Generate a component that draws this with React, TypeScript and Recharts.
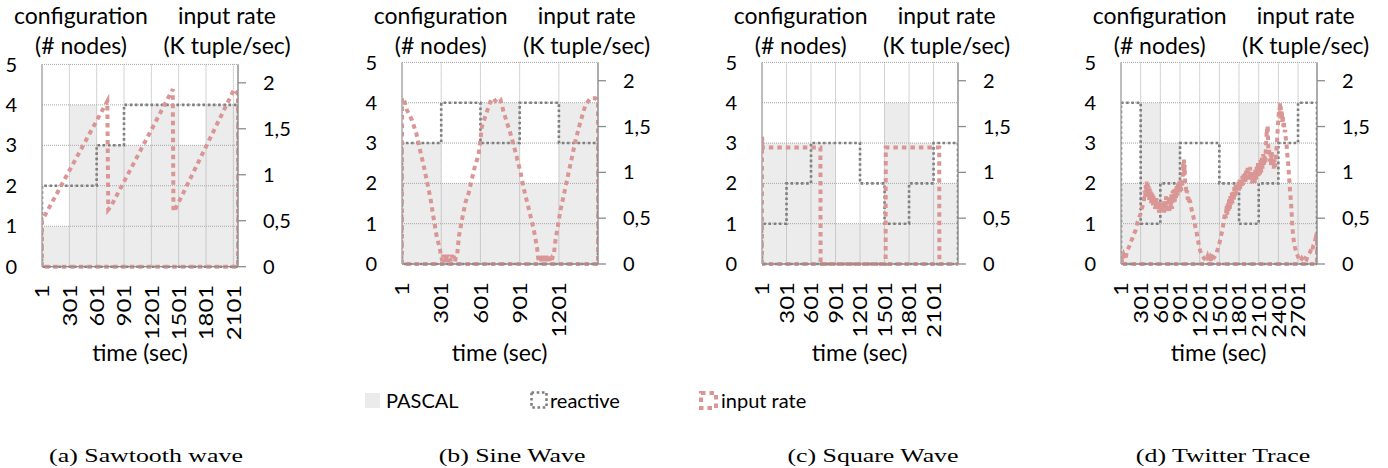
import { ComposedChart, Area, Line, XAxis, YAxis, CartesianGrid } from "recharts";

type Pt = [number, number];

// (a) sawtooth wave
const sawEnd = 2152;
const sawTicks = [1, 301, 601, 901, 1201, 1501, 1801, 2101];
const sawPascal: Pt[] = [[1, 1], [301, 4], [601, 3], [1201, 4], [1501, 3], [1801, 4], [2152, 4]];
const sawReactive: Pt[] = [[1, 2], [601, 3], [901, 4], [2152, 4]];
const sawRate: Pt[] = [
  [1, 0.5], [718, 1.8], [728, 0.62], [760, 0.66], [1436, 1.93], [1444, 0.6],
  [1461, 0.62], [2110, 1.93], [2150, 1.88], [2152, 1.88],
];

// (b) sine wave
const sineEnd = 1500;
const sineTicks = [1, 301, 601, 901, 1201];
const sinePascal: Pt[] = [[1, 3], [301, 2], [601, 4], [901, 2], [1201, 4], [1500, 4]];
const sineReactive: Pt[] = [[1, 3], [301, 4], [601, 3], [901, 4], [1201, 3], [1500, 3]];
const sineRate: Pt[] = [
  [1, 1.81], [13, 1.81], [39, 1.68], [77, 1.57], [110, 1.43], [141, 1.23], [166, 1.08],
  [192, 0.9], [218, 0.72], [243, 0.5], [269, 0.28], [289, 0.18], [300, 0.08], [310, 0.03],
  [318, 0.1], [326, 0.02], [334, 0.09], [342, 0.03], [350, 0.1], [358, 0.02], [366, 0.08],
  [374, 0.03], [382, 0.1], [390, 0.04], [398, 0.09], [406, 0.03], [414, 0.08], [423, 0.1],
  [436, 0.3], [462, 0.5], [488, 0.68], [510, 0.77], [536, 0.93], [561, 1.08], [587, 1.19],
  [612, 1.5], [638, 1.61], [676, 1.77], [700, 1.81], [714, 1.78], [735, 1.81], [753, 1.8],
  [778, 1.66], [829, 1.43], [867, 1.23], [906, 1.01], [931, 0.83], [969, 0.61], [1008, 0.38],
  [1034, 0.18], [1042, 0.07], [1050, 0.02], [1058, 0.1], [1066, 0.03], [1074, 0.09],
  [1082, 0.02], [1090, 0.1], [1098, 0.03], [1106, 0.09], [1114, 0.02], [1122, 0.1],
  [1130, 0.03], [1138, 0.08], [1146, 0.02], [1154, 0.09], [1162, 0.1], [1174, 0.25],
  [1212, 0.58], [1250, 0.83], [1288, 1.08], [1327, 1.34], [1365, 1.55], [1403, 1.73],
  [1441, 1.81], [1480, 1.81], [1500, 1.78],
];

// (c) square wave
const squareEnd = 2400;
const squareTicks = [1, 301, 601, 901, 1201, 1501, 1801, 2101];
const squarePascal: Pt[] = [[1, 3], [901, 1], [1501, 4], [1801, 3], [2101, 2], [2400, 2]];
const squareReactive: Pt[] = [[1, 1], [301, 2], [601, 3], [1201, 2], [1501, 1], [1801, 2], [2101, 3], [2400, 3]];
const squareRate: Pt[] = [
  [1, 1.39], [10, 1.27], [716, 1.27], [718, 0], [1514, 0], [1516, 1.27], [2170, 1.27],
  [2172, 0], [2400, 0],
];

// (d) twitter trace
const twitterEnd = 2990;
const twitterTicks = [1, 301, 601, 901, 1201, 1501, 1801, 2101, 2401, 2701];
const twitterPascal: Pt[] = [[1, 2], [301, 4], [601, 3], [901, 2], [1801, 4], [2101, 3], [2401, 2], [2990, 2]];
const twitterReactive: Pt[] = [
  [1, 4], [301, 1], [601, 2], [901, 3], [1501, 2], [1801, 1], [2101, 2], [2401, 3], [2701, 4], [2990, 4],
];
const twitterRate: Pt[] = [
  [1, 0.08], [20, 0.02], [45, 0.1], [70, 0.06], [95, 0.15], [120, 0.18], [150, 0.24],
  [175, 0.28], [200, 0.33], [225, 0.37], [250, 0.45], [275, 0.5], [300, 0.55], [325, 0.62],
  [350, 0.68], [362, 0.8], [370, 0.73], [378, 0.86], [385, 0.8], [392, 0.9], [400, 0.76],
  [408, 0.88], [415, 0.75], [422, 0.85], [430, 0.7], [438, 0.83], [445, 0.72], [452, 0.8],
  [460, 0.66], [468, 0.78], [475, 0.68], [482, 0.76], [490, 0.62], [498, 0.74], [505, 0.64],
  [512, 0.72], [520, 0.6], [528, 0.7], [535, 0.62], [542, 0.72], [550, 0.58], [558, 0.68],
  [565, 0.6], [572, 0.7], [580, 0.56], [590, 0.68], [600, 0.58], [610, 0.66], [620, 0.55],
  [630, 0.64], [640, 0.58], [650, 0.7], [660, 0.56], [670, 0.66], [680, 0.6], [690, 0.74],
  [700, 0.58], [710, 0.68], [720, 0.6], [730, 0.7], [740, 0.56], [750, 0.74], [760, 0.62],
  [770, 0.76], [780, 0.6], [790, 0.8], [800, 0.66], [810, 0.82], [820, 0.68], [830, 0.84],
  [840, 0.72], [850, 0.86], [860, 0.74], [870, 0.88], [880, 0.76], [890, 0.9], [900, 0.78],
  [910, 0.92], [920, 0.8], [935, 0.86], [945, 1.0], [950, 1.1], [955, 0.96], [960, 1.14],
  [966, 1.0], [972, 1.08], [980, 0.88], [990, 0.84], [1000, 0.76], [1010, 0.8],
  [1020, 0.7], [1030, 0.74], [1040, 0.66], [1050, 0.7], [1070, 0.62], [1090, 0.56],
  [1110, 0.5], [1130, 0.42], [1150, 0.36], [1170, 0.28], [1190, 0.2], [1210, 0.14],
  [1240, 0.09], [1270, 0.06], [1300, 0.04], [1320, 0.08], [1340, 0.03], [1360, 0.07],
  [1380, 0.03], [1400, 0.08], [1420, 0.07], [1450, 0.1], [1475, 0.16], [1500, 0.22],
  [1525, 0.3], [1550, 0.38], [1570, 0.48], [1590, 0.56], [1600, 0.5], [1610, 0.64],
  [1620, 0.54], [1630, 0.66], [1640, 0.58], [1650, 0.72], [1660, 0.6], [1670, 0.74],
  [1680, 0.64], [1690, 0.78], [1700, 0.66], [1710, 0.8], [1720, 0.7], [1730, 0.84],
  [1740, 0.72], [1750, 0.86], [1760, 0.76], [1770, 0.88], [1780, 0.78], [1790, 0.9],
  [1800, 0.8], [1810, 0.92], [1820, 0.82], [1830, 0.94], [1840, 0.84], [1850, 0.96],
  [1860, 0.86], [1870, 0.98], [1880, 0.88], [1890, 1.0], [1900, 0.9], [1910, 1.02],
  [1920, 0.92], [1930, 1.06], [1940, 0.94], [1950, 1.04], [1960, 0.92], [1970, 1.06],
  [1980, 0.9], [1990, 1.0], [2000, 0.88], [2010, 1.02], [2020, 0.9], [2030, 0.98],
  [2040, 0.88], [2050, 1.04], [2060, 0.92], [2070, 1.06], [2080, 0.94], [2090, 1.1],
  [2100, 0.96], [2110, 1.12], [2120, 0.98], [2130, 1.14], [2140, 1.0], [2150, 1.16],
  [2160, 1.04], [2170, 1.2], [2180, 1.06], [2190, 1.18], [2200, 1.1], [2210, 1.26],
  [2218, 1.36], [2225, 1.48], [2232, 1.42], [2238, 1.52], [2245, 1.3], [2252, 1.2],
  [2260, 1.26], [2270, 1.12], [2280, 1.2], [2290, 1.08], [2300, 1.22], [2310, 1.06],
  [2320, 1.16], [2330, 1.04], [2340, 1.14], [2350, 1.06], [2358, 1.1], [2370, 1.22],
  [2383, 1.37], [2395, 1.52], [2409, 1.66], [2417, 1.6], [2424, 1.76], [2430, 1.64],
  [2437, 1.72], [2445, 1.58], [2452, 1.68], [2460, 1.55], [2468, 1.62], [2475, 1.5],
  [2485, 1.56], [2495, 1.44], [2505, 1.46], [2515, 1.36], [2526, 1.3], [2536, 1.2],
  [2546, 1.14], [2556, 1.04], [2566, 0.94], [2576, 0.83], [2590, 0.7], [2602, 0.58],
  [2610, 0.46], [2617, 0.38], [2628, 0.3], [2638, 0.24], [2655, 0.18], [2678, 0.12],
  [2700, 0.08], [2720, 0.05], [2740, 0.03], [2760, 0.06], [2790, 0.03], [2810, 0.06],
  [2830, 0.05], [2850, 0.09], [2867, 0.11], [2885, 0.13], [2900, 0.16], [2915, 0.14],
  [2933, 0.2], [2950, 0.22], [2969, 0.28], [2980, 0.26], [2990, 0.32],
];

const leftTicks = [0, 1, 2, 3, 4, 5];
const rightTicks = [0, 0.5, 1, 1.5, 2];

const PASCAL_FILL = "#ebebeb";
const REACTIVE = "#7f7f7f";
const RATE = "#d99694";

const toRows = (pts: Pt[]) => pts.map(([t, v]) => ({ t, v }));
// area outline like the spreadsheet draws it: up the left edge, along the series, down and back along 0
const outline = (pts: Pt[]) => {
  const t0 = pts[0][0];
  const t1 = pts[pts.length - 1][0];
  return toRows([[t0, 0], ...pts, [t1, 0], [t0, 0]]);
};

const panels = [
  { left: 42, top: 64.4, bottom: 266.7, end: sawEnd, ticks: sawTicks, pascal: sawPascal, reactive: sawReactive, rate: sawRate, caption: "(a) Sawtooth wave", capX: 146 },
  { left: 401.7, top: 62.4, bottom: 264, end: sineEnd, ticks: sineTicks, pascal: sinePascal, reactive: sineReactive, rate: sineRate, caption: "(b) Sine Wave", capX: 512 },
  { left: 761.7, top: 62.4, bottom: 264, end: squareEnd, ticks: squareTicks, pascal: squarePascal, reactive: squareReactive, rate: squareRate, caption: "(c) Square Wave", capX: 873 },
  { left: 1120.7, top: 62.4, bottom: 264, end: twitterEnd, ticks: twitterTicks, pascal: twitterPascal, reactive: twitterReactive, rate: twitterRate, caption: "(d) Twitter Trace", capX: 1223 },
];

const FONT = "Lato, 'Open Sans', sans-serif";

// eslint-disable-next-line @typescript-eslint/no-explicit-any
const XTick = (props: any) => {
  const { x, y, payload } = props;
  return (
    <text
      x={0}
      y={0}
      transform={`translate(${x} ${y}) rotate(-90) scale(1.2 1)`}
      textAnchor="end"
      dy="0.36em"
      fontSize={20}
      fill="#000"
      fontFamily={FONT}
    >
      {payload.value}
    </text>
  );
};

const CHART_W = 296;
const CHART_H = 345;
const XAXIS_H = 33;

function Panel({ p }: { p: (typeof panels)[number] }) {
  return (
    <>
      <div style={{ position: "absolute", left: p.left - 42, top: 0 }}>
        <ComposedChart
          width={CHART_W}
          height={CHART_H}
          margin={{ top: p.top, left: 2, right: 8, bottom: CHART_H - p.bottom - XAXIS_H }}
        >
          <XAxis
            dataKey="t"
            type="number"
            domain={[1, p.end]}
            ticks={p.ticks}
            interval={0}
            allowDataOverflow
            height={XAXIS_H}
            axisLine={{ stroke: "#8c8c8c", strokeWidth: 1.3 }}
            tickLine={false}
            tickSize={6}
            tickMargin={12}
            tick={<XTick />}
          />
          <YAxis
            domain={[0, 5]}
            ticks={leftTicks}
            width={40}
            axisLine={{ stroke: "#a6a6a6", strokeWidth: 1.3 }}
            tickLine={false}
            tickSize={0}
            tickMargin={25}
            tick={{ fontSize: 20, fill: "#000", fontFamily: FONT }}
          />
          <YAxis
            yAxisId="r"
            orientation="right"
            domain={[0, 2.2]}
            ticks={rightTicks}
            width={50}
            axisLine={{ stroke: "#8c8c8c", strokeWidth: 1.3 }}
            tickLine={{ stroke: "#8c8c8c", strokeWidth: 1.3 }}
            tickSize={8}
            tickMargin={17}
            tickFormatter={(v: number) => String(v).replace(".", ",")}
            tick={{ fontSize: 20, fill: "#000", fontFamily: FONT }}
          />
          <Area
            data={toRows(p.pascal)}
            dataKey="v"
            type="stepAfter"
            fill="#d4d4d4"
            fillOpacity={0.45}
            stroke="none"
            isAnimationActive={false}
          />
          <CartesianGrid stroke="#a6a6a6" strokeDasharray="1 1" zIndex={150} />
          <Line
            data={outline(p.reactive)}
            dataKey="v"
            type="stepAfter"
            stroke={REACTIVE}
            strokeWidth={2.6}
            strokeDasharray="2.6 2.6"
            dot={false}
            activeDot={false}
            isAnimationActive={false}
          />
          <Line
            data={outline(p.rate)}
            yAxisId="r"
            dataKey="v"
            type="linear"
            stroke={RATE}
            strokeWidth={4}
            strokeDasharray="4.5 4"
            dot={false}
            activeDot={false}
            isAnimationActive={false}
          />
        </ComposedChart>
      </div>
      <div style={{ position: "absolute", left: p.left + 39 - 100, top: 0, width: 200, textAlign: "center", fontSize: 23, lineHeight: "30px" }}>
        configuration
        <br />
        (# nodes)
      </div>
      <div style={{ position: "absolute", left: p.left + 185 - 100, top: 0, width: 200, textAlign: "center", fontSize: 23, lineHeight: "30px" }}>
        input rate
        <br />
        (K tuple/sec)
      </div>
      <div style={{ position: "absolute", left: p.left + 98 - 100, top: 337, width: 200, textAlign: "center", fontSize: 23, lineHeight: "30px" }}>
        time (sec)
      </div>
      <div
        style={{
          position: "absolute",
          left: p.capX - 150,
          top: 444,
          width: 300,
          textAlign: "center",
          fontFamily: "'Liberation Serif', serif",
          fontSize: 19,
          lineHeight: "24px",
          transform: "scaleX(1.36)",
        }}
      >
        {p.caption}
      </div>
    </>
  );
}

function Legend() {
  const item = { position: "absolute" as const, top: 386, fontSize: 20, lineHeight: "28px", display: "flex", alignItems: "center" };
  return (
    <>
      <div style={{ ...item, left: 365 }}>
        <svg width={15} height={15} style={{ marginRight: 6 }}>
          <rect x={0} y={0} width={15} height={15} fill={PASCAL_FILL} />
        </svg>
        PASCAL
      </div>
      <div style={{ ...item, left: 530 }}>
        <svg width={18} height={18} style={{ marginRight: 2 }}>
          <rect x={1.5} y={1.5} width={15} height={15} fill="none" stroke={REACTIVE} strokeWidth={2.6} strokeDasharray="2.6 2.6" />
        </svg>
        reactive
      </div>
      <div style={{ ...item, left: 699 }}>
        <svg width={19} height={19} style={{ marginRight: 3 }}>
          <rect x={2} y={2} width={15} height={15} fill="none" stroke={RATE} strokeWidth={4} strokeDasharray="4.5 4" />
        </svg>
        input rate
      </div>
    </>
  );
}

export default function App() {
  return (
    <div
      style={{
        position: "absolute",
        left: 0,
        top: 0,
        width: 1388,
        height: 468,
        background: "#fff",
        fontFamily: FONT,
        color: "#000",
        overflow: "hidden",
      }}
    >
      {panels.map((p) => (
        <Panel key={p.caption} p={p} />
      ))}
      <Legend />
    </div>
  );
}
